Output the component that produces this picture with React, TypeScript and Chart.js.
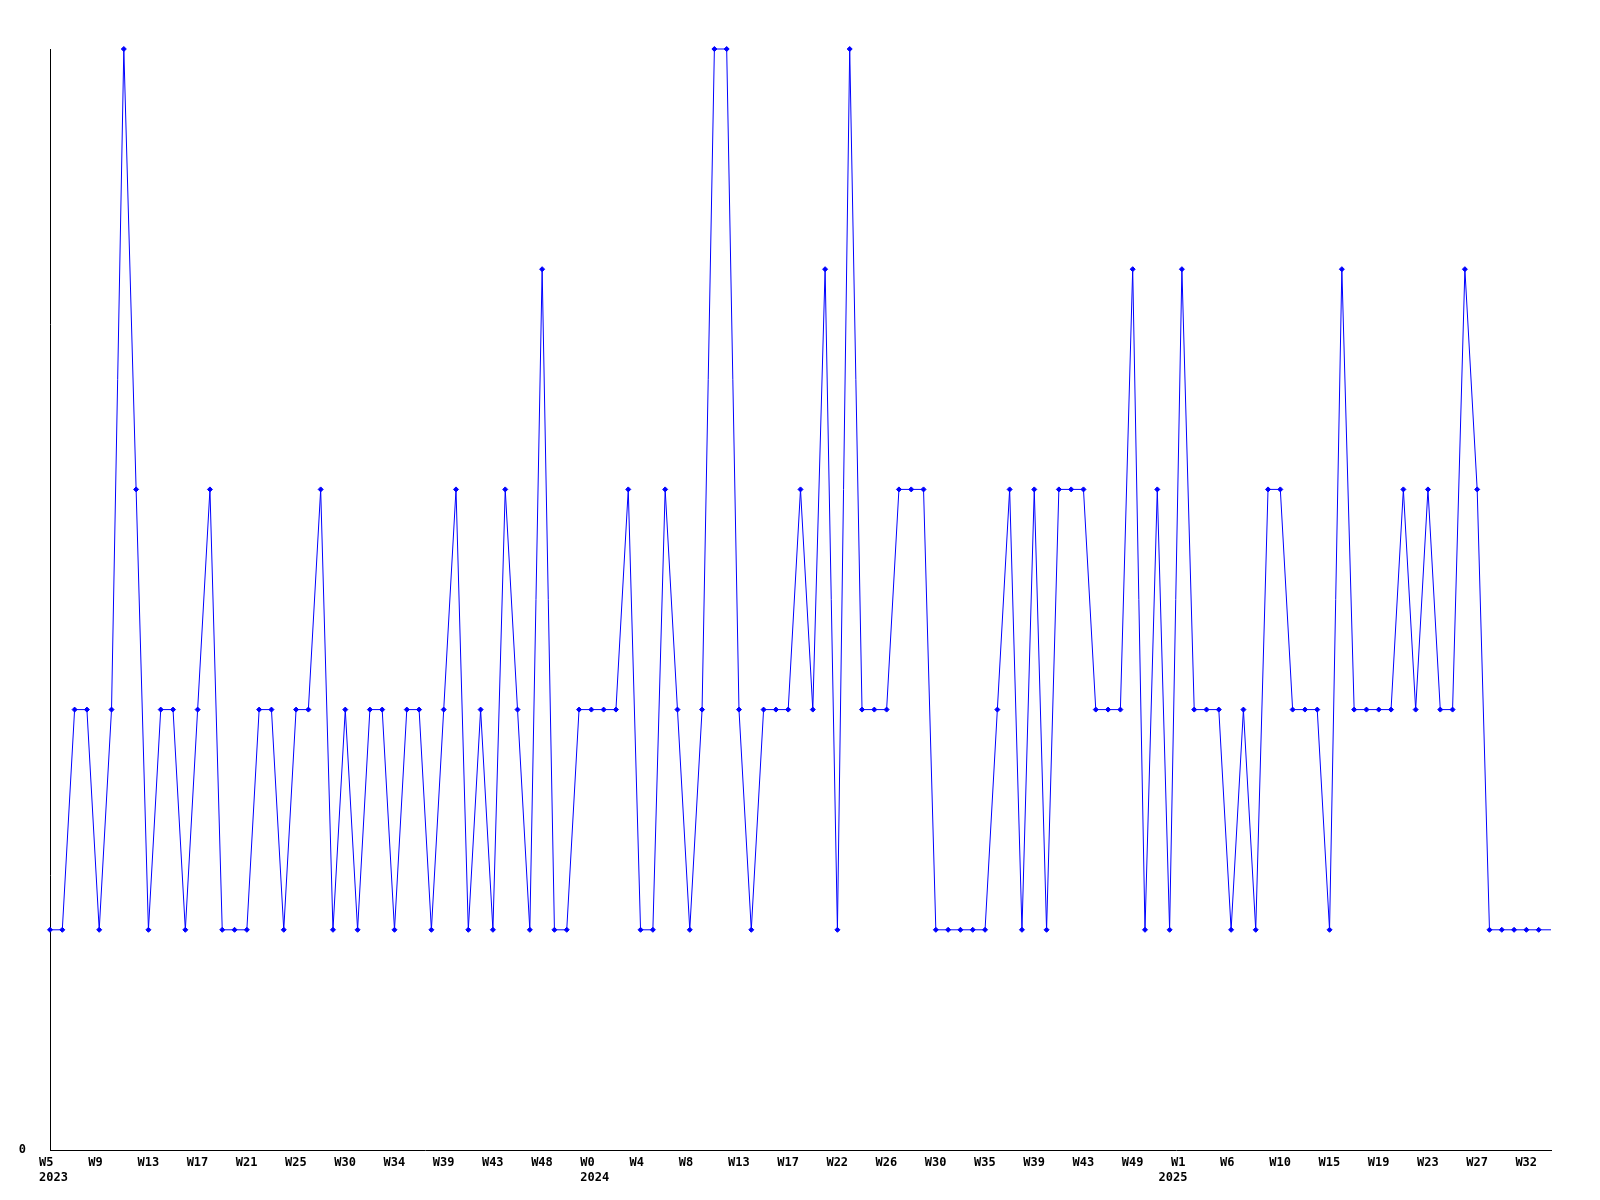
import React, { useEffect, useRef } from "react";
import { Chart, registerables } from "chart.js";

Chart.register(...registerables);

// Weekly values (one per point)
const values: number[] = [
  1, 1, 2, 2, 1, 2, 5, 3, 1, 2,
  2, 1, 2, 3, 1, 1, 1, 2, 2, 1,
  2, 2, 3, 1, 2, 1, 2, 2, 1, 2,
  2, 1, 2, 3, 1, 2, 1, 3, 2, 1,
  4, 1, 1, 2, 2, 2, 2, 3, 1, 1,
  3, 2, 1, 2, 5, 5, 2, 1, 2, 2,
  2, 3, 2, 4, 1, 5, 2, 2, 2, 3,
  3, 3, 1, 1, 1, 1, 1, 2, 3, 1,
  3, 1, 3, 3, 3, 2, 2, 2, 4, 1,
  3, 1, 4, 2, 2, 2, 1, 2, 1, 3,
  3, 2, 2, 2, 1, 4, 2, 2, 2, 2,
  3, 2, 3, 2, 2, 4, 3, 1, 1, 1,
  1, 1, 1,
];

// Week tick labels, one every 4 points
const tickStep = 4;
const weekTickLabels: string[] = [
  "W5", "W9", "W13", "W17", "W21", "W25", "W30", "W34", "W39", "W43", "W48",
  "W0", "W4", "W8", "W13", "W17", "W22", "W26", "W30", "W35", "W39", "W43", "W49",
  "W1", "W6", "W10", "W15", "W19", "W23", "W27", "W32",
];

// Year labels and the point index where each year starts
const yearLabels: string[] = ["2023", "2024", "2025"];
const yearStartIndex: number[] = [0, 44, 91];

// Y tick labels
const yTickValues: number[] = [0];

const categories: string[] = values.map((_, i) => String(i));

const FONT = 'bold 12px "DejaVu Sans Mono"';

const labelPlugin = {
  id: "customLabels",
  afterDraw(chart: any) {
    const ctx = chart.ctx;
    const x = chart.scales.x;
    const y = chart.scales.y;
    ctx.save();
    ctx.font = FONT;
    ctx.fillStyle = "#000000";
    ctx.textBaseline = "top";
    ctx.textAlign = "left";
    const baseY = y.getPixelForValue(0);
    weekTickLabels.forEach((lab, k) => {
      const px = x.getPixelForValue(k * tickStep);
      ctx.fillText(lab, px - 11, baseY + 7);
    });
    yearLabels.forEach((lab, k) => {
      const px = x.getPixelForValue(yearStartIndex[k]);
      ctx.fillText(lab, px - 11, baseY + 22);
    });
    ctx.textAlign = "right";
    ctx.textBaseline = "middle";
    yTickValues.forEach((v) => {
      ctx.fillText(String(v), x.left - 24, y.getPixelForValue(v));
    });
    ctx.restore();
  },
};

export default function App() {
  const ref = useRef<HTMLCanvasElement | null>(null);
  useEffect(() => {
    if (!ref.current) return;
    const last = values.length - 1;
    const chart = new Chart(ref.current, {
      type: "line",
      data: {
        labels: categories,
        datasets: [
          {
            data: values,
            borderColor: "#0000ff",
            backgroundColor: "#0000ff",
            borderWidth: 1,
            tension: 0,
            pointStyle: "rectRot",
            pointRadius: (c: any) => (c.dataIndex === last ? 0 : 2.5),
            pointBorderWidth: 1,
            pointBackgroundColor: "#0000ff",
            pointBorderColor: "#0000ff",
            clip: false as any,
          },
        ],
      },
      options: {
        responsive: false,
        animation: false,
        layout: { padding: { left: 0, top: 49, right: 49, bottom: 0 } },
        plugins: {
          legend: { display: false },
          tooltip: { enabled: false },
        },
        scales: {
          x: {
            type: "category",
            offset: false,
            grid: { display: false, drawTicks: false },
            border: { display: true, color: "#000000", width: 1 },
            ticks: { display: false },
            afterFit: (s: any) => {
              s.height = 50;
            },
          },
          y: {
            min: 0,
            max: 5,
            grid: { display: false, drawTicks: false },
            border: { display: true, color: "#000000", width: 1 },
            ticks: { display: false },
            afterFit: (s: any) => {
              s.width = 50;
            },
          },
        },
      },
      plugins: [labelPlugin],
    });
    return () => chart.destroy();
  }, []);
  return (
    <div style={{ position: "absolute", left: 0, top: 0, width: 1600, height: 1200, background: "#ffffff" }}>
      <canvas ref={ref} width={1600} height={1200} style={{ width: 1600, height: 1200 }} />
    </div>
  );
}
